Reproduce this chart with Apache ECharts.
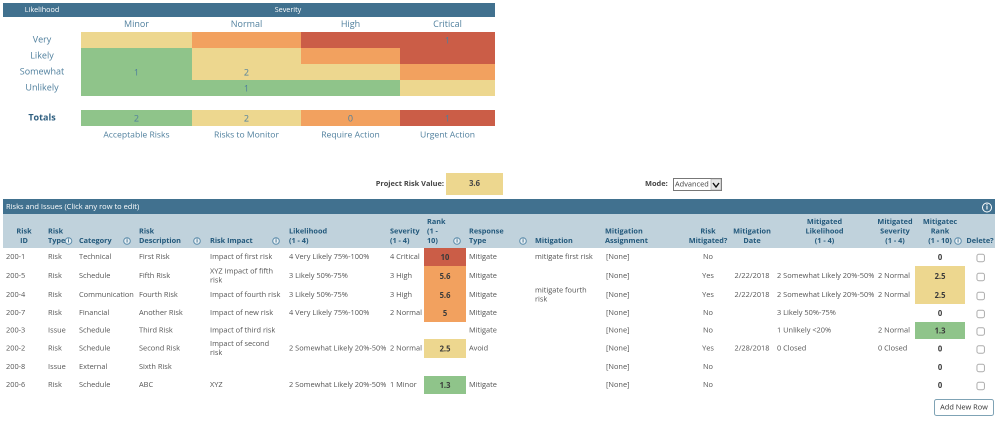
<!DOCTYPE html>
<html>
<head>
<meta charset="utf-8">
<script src="https://cdn.jsdelivr.net/npm/echarts@6/dist/echarts.min.js"></script>
<style>
  html, body { margin: 0; padding: 0; background: #fff; }
  #main { width: 1000px; height: 424px; filter: blur(0.35px); }
</style>
</head>
<body>
<div id="main"></div>
<script>
// summary matrix
const severities = ['Minor', 'Normal', 'High', 'Critical'];
const likelihoods = ['Very', 'Likely', 'Somewhat', 'Unlikely'];
const riskBands = [
    [1, 2, 3, 3],
    [0, 1, 2, 3],
    [0, 1, 1, 2],
    [0, 0, 0, 1],
];
const riskCounts = [
    [null, null, null, 1],
    [null, null, null, null],
    [1, 2, null, null],
    [null, 1, null, null],
];
const totals = [2, 2, 0, 1];
const totalLabels = ['Acceptable Risks', 'Risks to Monitor', 'Require Action', 'Urgent Action'];
const projectRiskValue = 3.6;
const modeValue = 'Advanced';

// risk table columns
const riskIds = ['200-1', '200-5', '200-4', '200-7', '200-3', '200-2', '200-8', '200-6'];
const riskTypes = ['Risk', 'Risk', 'Risk', 'Risk', 'Issue', 'Risk', 'Issue', 'Risk'];
const riskCategories = ['Technical', 'Schedule', 'Communication', 'Financial', 'Schedule', 'Schedule', 'External', 'Schedule'];
const riskDescriptions = ['First Risk', 'Fifth Risk', 'Fourth Risk', 'Another Risk', 'Third Risk', 'Second Risk', 'Sixth Risk', 'ABC'];
const riskImpacts = ['Impact of first risk', 'XYZ Impact of fifth\nrisk', 'Impact of fourth risk', 'Impact of new risk', 'Impact of third risk', 'Impact of second\nrisk', '', 'XYZ'];
const riskLikelihoods = ['4 Very Likely 75%-100%', '3 Likely 50%-75%', '3 Likely 50%-75%', '4 Very Likely 75%-100%', '', '2 Somewhat Likely 20%-50%', '', '2 Somewhat Likely 20%-50%'];
const riskSeverities = ['4 Critical', '3 High', '3 High', '2 Normal', '', '2 Normal', '', '1 Minor'];
const riskRanks = [10, 5.6, 5.6, 5, null, 2.5, null, 1.3];
const responseTypes = ['Mitigate', 'Mitigate', 'Mitigate', 'Mitigate', 'Mitigate', 'Avoid', '', 'Mitigate'];
const mitigations = ['mitigate first risk', '', 'mitigate fourth\nrisk', '', '', '', '', ''];
const assignments = ['[None]', '[None]', '[None]', '[None]', '[None]', '[None]', '[None]', '[None]'];
const mitigatedFlags = ['No', 'Yes', 'Yes', 'No', 'No', 'Yes', 'No', 'No'];
const mitigationDates = ['', '2/22/2018', '2/22/2018', '', '', '2/28/2018', '', ''];
const mitigatedLikelihoods = ['', '2 Somewhat Likely 20%-50%', '2 Somewhat Likely 20%-50%', '3 Likely 50%-75%', '1 Unlikely <20%', '0 Closed', '', ''];
const mitigatedSeverities = ['', '2 Normal', '2 Normal', '', '2 Normal', '0 Closed', '', ''];
const mitigatedRanks = [0, 2.5, 2.5, 0, 1.3, 0, 0, 0];

const FONT = '"Open Sans", "Noto Sans", sans-serif';
const GREEN = '#8fc48a';
const YELLOW = '#edd78f';
const ORANGE = '#f2a15f';
const RED = '#cb5d47';
const BANNER = '#41718f';
const HEAD_BG = '#c0d2dc';
const HEAD_TEXT = '#23597c';
const LABEL_BLUE = '#4f7f9d';
const BODY_TEXT = '#555';

const rankBand = (v) => (v >= 7 ? 3 : v >= 4 ? 2 : v >= 2 ? 1 : 0);

// table layout
const colEdges = [3, 45, 76, 136, 207, 286, 387, 424, 466, 532, 602, 686, 730, 774, 875, 915, 965, 995];
const rowEdges = [214, 248, 266, 286, 304, 322, 339, 358, 376, 394];
const sizes = (edges) => edges.slice(1).map((e, i) => e - edges[i]);

const columns = [
    { head: 'Risk\nID', align: 'center', rows: riskIds },
    { head: 'Risk\nType', rows: riskTypes },
    { head: 'Category', rows: riskCategories },
    { head: 'Risk\nDescription', rows: riskDescriptions, dy: 1 },
    { head: 'Risk Impact', rows: riskImpacts, dy: 1 },
    { head: 'Likelihood\n(1 - 4)', rows: riskLikelihoods },
    { head: 'Severity\n(1 - 4)', rows: riskSeverities },
    { head: 'Rank\n(1 -\n10)', rows: null },
    { head: 'Response\nType', rows: responseTypes },
    { head: 'Mitigation', rows: mitigations, dy: 1 },
    { head: 'Mitigation\nAssignment', headPad: -1, rows: assignments, dataPad: 1, dy: 1 },
    { head: 'Risk\nMitigated?', align: 'center', rows: mitigatedFlags, center: true },
    { head: 'Mitigation\nDate', align: 'center', rows: mitigationDates, center: true },
    { head: 'Mitigated\nLikelihood\n(1 - 4)', align: 'center', rows: mitigatedLikelihoods, dataPad: -1 },
    { head: 'Mitigated\nSeverity\n(1 - 4)', align: 'center', rows: mitigatedSeverities, dataPad: -1 },
    { head: 'Mitigatec\nRank\n(1 - 10)', align: 'center', headPad: -2, rows: null },
    { head: 'Delete?', align: 'center', rows: null },
];

const noBorder = { borderWidth: 0, color: 'transparent' };

const headCell = (col, c) => ({
    coord: [c, 0],
    value: col.head,
    itemStyle: { color: HEAD_BG, borderWidth: 0 },
    label: {
        position: col.align === 'center' ? 'insideBottom' : 'insideBottomLeft',
        distance: 0,
        offset: [col.headPad || 0, 1],
        align: col.align === 'center' ? 'center' : 'left',
        overflow: 'none',
        color: HEAD_TEXT,
        fontFamily: FONT,
        fontWeight: 'bold',
        fontSize: 7.3,
        lineHeight: 9.7,
    },
});

const bodyCell = (col, c, r) => ({
    coord: [c, r + 1],
    value: col.rows[r],
    label: {
        position: col.center ? 'inside' : 'insideLeft',
        distance: 0,
        offset: [col.center ? 0 : col.dataPad || 0, 2 + (col.dy || 0)],
        align: col.center ? 'center' : 'left',
        overflow: 'none',
        lineOverflow: 'none',
        color: BODY_TEXT,
        fontFamily: FONT,
        fontSize: 7.4,
        lineHeight: 9,
    },
});

const tableCells = [];
columns.forEach((col, c) => {
    tableCells.push(headCell(col, c));
    if (col.rows) col.rows.forEach((_, r) => tableCells.push(bodyCell(col, c, r)));
});

const rankColumn = 7;
const mitigatedRankColumn = 15;
const deleteColumn = 16;

const rankData = (values, column) => values.map((v, r) => ({
    value: [column, r + 1, v === null || v === 0 ? -1 : rankBand(v)],
    rank: v,
}));

const matrixAxisOff = { show: false };

const matrixBody = {
    itemStyle: noBorder,
    label: { show: true, fontFamily: FONT, fontSize: 9, overflow: 'none' },
};

// text styles for the summary block
const blueText = (size, dy, weight) => ({
    position: 'inside',
    offset: [0, dy],
    color: LABEL_BLUE,
    fontFamily: FONT,
    fontSize: size,
    fontWeight: weight || 'normal',
    overflow: 'none',
});

const summaryCells = [];
severities.forEach((s, c) => {
    summaryCells.push({ coord: [c + 1, 0], value: s, label: blueText(9, 1) });
});
likelihoods.forEach((l, r) => {
    summaryCells.push({ coord: [0, r + 1], value: l, label: blueText(9, 1) });
});

const totalsCells = [{ coord: [0, 0], value: 'Totals', label: { ...blueText(9, 1, 'bold'), color: '#2f5f80' } }];
totalLabels.forEach((l, c) => {
    totalsCells.push({ coord: [c + 1, 1], value: l, label: blueText(8.6, 0.5) });
});

const bandData = [];
riskBands.forEach((row, r) => row.forEach((b, c) => {
    bandData.push({ value: [c + 1, r + 1, b], count: riskCounts[r][c] });
}));

const totalData = totals.map((t, c) => ({ value: [c + 1, 0, c], count: t }));

const cellLabel = {
    show: true,
    color: LABEL_BLUE,
    fontFamily: FONT,
    fontSize: 9,
    offset: [0, 1],
    formatter: (p) => (p.data.count === null ? '' : String(p.data.count)),
};

const rankLabel = {
    show: true,
    color: '#3a3a3a',
    fontFamily: FONT,
    fontWeight: 'bold',
    fontSize: 7.6,
    offset: [0, 1],
    formatter: (p) => (p.data.rank === null ? '' : String(p.data.rank)),
};

// chrome drawn in canvas pixels
const infoSpots = [[68.5, 241], [127, 241], [197, 241], [276, 241], [457, 241], [523, 241], [958, 241]];

const infoIcon = (x, y, r, ring, fill, ink) => ({
    type: 'group',
    z: 20,
    children: [
        { type: 'circle', shape: { cx: x, cy: y, r: r }, style: { fill: fill, stroke: ring, lineWidth: 1 } },
        { type: 'text', style: { x: x, y: y, text: 'i', fill: ink, align: 'center', verticalAlign: 'middle', font: 'bold ' + (r * 1.6) + 'px ' + FONT } },
    ],
});

const graphics = [
    { type: 'rect', shape: { x: 3, y: 3, width: 492, height: 14 }, style: { fill: BANNER } },
    { type: 'text', style: { x: 42, y: 10, text: 'Likelihood', fill: '#fff', align: 'center', verticalAlign: 'middle', font: '7.2px ' + FONT } },
    { type: 'text', style: { x: 288, y: 10, text: 'Severity', fill: '#fff', align: 'center', verticalAlign: 'middle', font: '7.2px ' + FONT } },

    { type: 'text', style: { x: 444, y: 184, text: 'Project Risk Value:', fill: '#444', align: 'right', verticalAlign: 'middle', font: 'bold 7.4px ' + FONT } },
    { type: 'rect', shape: { x: 446, y: 173, width: 57, height: 22 }, style: { fill: YELLOW } },
    { type: 'text', style: { x: 474.5, y: 184, text: String(projectRiskValue), fill: '#444', align: 'center', verticalAlign: 'middle', font: 'bold 7.6px ' + FONT } },
    { type: 'text', style: { x: 645, y: 184, text: 'Mode:', fill: '#444', align: 'left', verticalAlign: 'middle', font: 'bold 7.4px ' + FONT } },
    { type: 'rect', shape: { x: 673.5, y: 178.5, width: 48, height: 12 }, style: { fill: '#fff', stroke: '#777', lineWidth: 1 } },
    { type: 'text', style: { x: 675, y: 184.5, text: modeValue, fill: '#444', align: 'left', verticalAlign: 'middle', font: '7.4px ' + FONT } },
    { type: 'rect', shape: { x: 711, y: 179, width: 10, height: 11 }, style: { fill: '#e6e6e6', stroke: '#999', lineWidth: 0.5 } },
    { type: 'polyline', shape: { points: [[713, 183], [716, 187], [719, 183]] }, style: { fill: 'none', stroke: '#111', lineWidth: 1.4 } },

    { type: 'rect', shape: { x: 3, y: 199, width: 992, height: 15 }, style: { fill: BANNER } },
    { type: 'text', style: { x: 6, y: 207, text: 'Risks and Issues (Click any row to edit)', fill: '#fff', align: 'left', verticalAlign: 'middle', font: '7.5px ' + FONT } },
    infoIcon(987, 207.5, 4.5, '#fff', BANNER, '#fff'),

    { type: 'rect', shape: { x: 934.5, y: 399.5, width: 59, height: 16, r: 2 }, style: { fill: '#fff', stroke: '#7fa3b5', lineWidth: 1 } },
    { type: 'text', style: { x: 964, y: 407.5, text: 'Add New Row', fill: '#333', align: 'center', verticalAlign: 'middle', font: '7.4px ' + FONT } },
].concat(infoSpots.map(([x, y]) => infoIcon(x, y, 3.3, '#5b8cab', '#e6eef3', '#23597c')));

const chart = echarts.init(document.getElementById('main'), null, { renderer: 'canvas', devicePixelRatio: 2 });

chart.setOption({
    animation: false,
    textStyle: { fontFamily: FONT },
    graphic: graphics,
    matrix: [
        {
            left: 3, top: 17, width: 492, height: 79,
            x: { ...matrixAxisOff, data: [{ value: 'h', size: 78 }, { value: 'Minor', size: 111 }, { value: 'Normal', size: 109 }, { value: 'High', size: 99 }, { value: 'Critical', size: 95 }] },
            y: { ...matrixAxisOff, data: [{ value: 'h', size: 15 }, { value: 'Very', size: 16 }, { value: 'Likely', size: 16 }, { value: 'Somewhat', size: 16 }, { value: 'Unlikely', size: 16 }] },
            body: { ...matrixBody, data: summaryCells },
            backgroundStyle: { borderWidth: 0, color: 'transparent' },
            borderZ2: 0,
        },
        {
            left: 3, top: 110, width: 492, height: 34,
            x: { ...matrixAxisOff, data: [{ value: 'h', size: 78 }, { value: 'a', size: 111 }, { value: 'b', size: 109 }, { value: 'c', size: 99 }, { value: 'd', size: 95 }] },
            y: { ...matrixAxisOff, data: [{ value: 't', size: 16 }, { value: 'l', size: 18 }] },
            body: { ...matrixBody, data: totalsCells },
            backgroundStyle: { borderWidth: 0, color: 'transparent' },
        },
        {
            left: 3, top: 214, width: 992, height: 180,
            x: { ...matrixAxisOff, data: sizes(colEdges).map((s, i) => ({ value: 'c' + i, size: s })) },
            y: { ...matrixAxisOff, data: sizes(rowEdges).map((s, i) => ({ value: 'r' + i, size: s })) },
            body: { ...matrixBody, data: tableCells },
            backgroundStyle: { borderWidth: 0, color: 'transparent' },
        },
    ],
    visualMap: {
        show: false,
        type: 'piecewise',
        seriesIndex: [0, 1, 2, 3],
        dimension: 2,
        pieces: [
            { value: -1, color: 'rgba(255,255,255,0)' },
            { value: 0, color: GREEN },
            { value: 1, color: YELLOW },
            { value: 2, color: ORANGE },
            { value: 3, color: RED },
        ],
    },
    series: [
        { type: 'heatmap', coordinateSystem: 'matrix', matrixIndex: 0, data: bandData, label: cellLabel },
        { type: 'heatmap', coordinateSystem: 'matrix', matrixIndex: 1, data: totalData, label: cellLabel },
        { type: 'heatmap', coordinateSystem: 'matrix', matrixIndex: 2, data: rankData(riskRanks, rankColumn), label: rankLabel },
        { type: 'heatmap', coordinateSystem: 'matrix', matrixIndex: 2, data: rankData(mitigatedRanks, mitigatedRankColumn), label: rankLabel },
        {
            type: 'scatter',
            coordinateSystem: 'matrix',
            matrixIndex: 2,
            symbol: 'roundRect',
            symbolSize: 7.5,
            symbolOffset: [0.7, 1],
            itemStyle: { color: '#fff', borderColor: '#999', borderWidth: 1 },
            data: riskIds.map((_, r) => [deleteColumn, r + 1]),
        },
    ],
});
</script>
</body>
</html>
